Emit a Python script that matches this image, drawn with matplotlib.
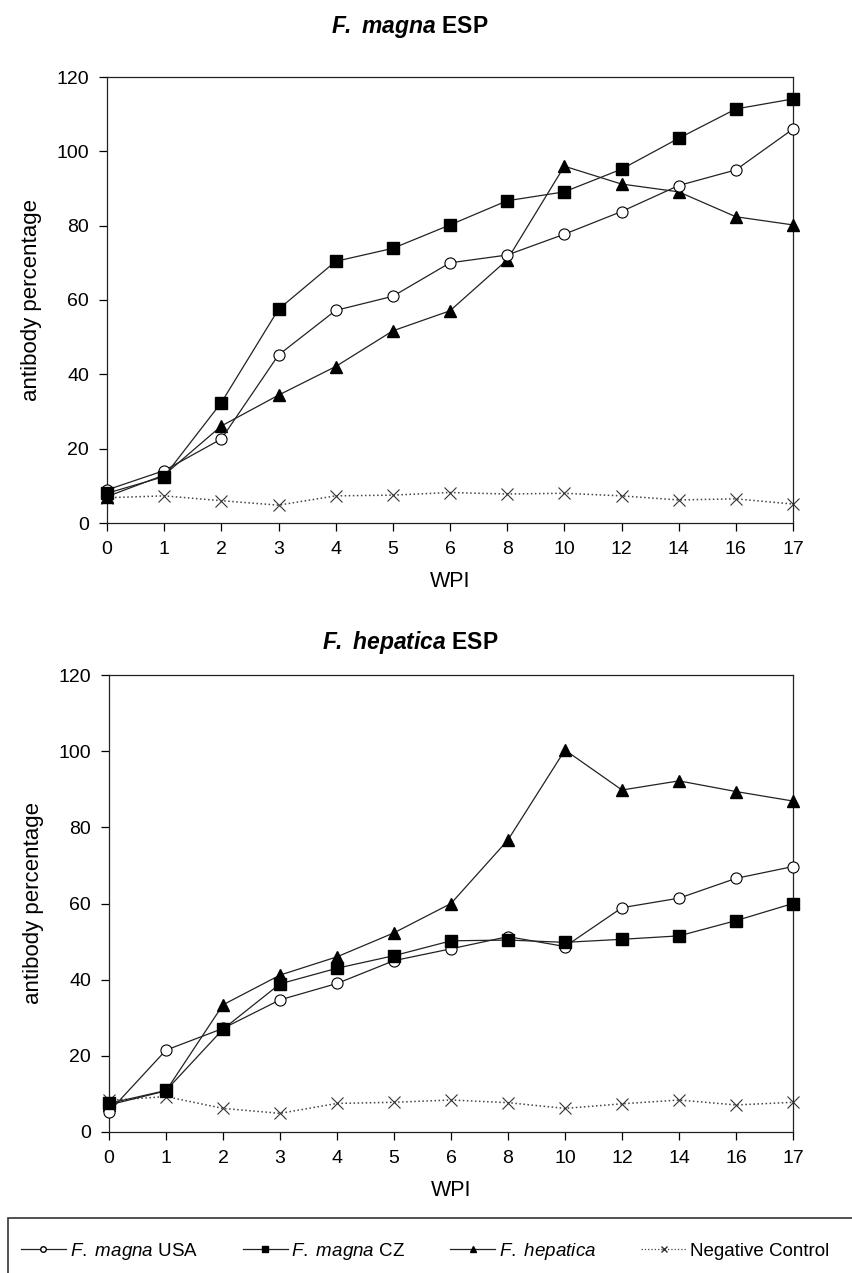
import matplotlib
matplotlib.use("Agg")
import matplotlib.pyplot as plt
from matplotlib.lines import Line2D
from matplotlib.patches import Rectangle

plt.rcParams['font.family'] = ['Liberation Sans', 'DejaVu Sans']
plt.rcParams['mathtext.fontset'] = 'custom'
plt.rcParams['mathtext.rm'] = 'Liberation Sans'
plt.rcParams['mathtext.it'] = 'Liberation Sans:italic'
plt.rcParams['mathtext.bf'] = 'Liberation Sans:bold'
plt.rcParams['mathtext.bfit'] = 'Liberation Sans:bold:italic'

wpi_labels = ["0", "1", "2", "3", "4", "5", "6", "8", "10", "12", "14", "16", "17"]

# F. magna ESP panel
magna_usa = [8.9, 14.1, 22.6, 45.2, 57.2, 61.0, 70.0, 72.1, 77.7, 83.8, 90.8, 95.0, 106.0]
magna_cz = [8.0, 12.5, 32.4, 57.5, 70.4, 73.9, 80.2, 86.7, 89.1, 95.2, 103.5, 111.4, 114.1]
magna_hep = [7.1, 12.9, 26.1, 34.4, 42.1, 51.7, 57.1, 70.8, 96.0, 91.2, 89.1, 82.4, 80.2]
magna_neg = [6.8, 7.3, 6.0, 4.8, 7.3, 7.5, 8.2, 7.8, 8.0, 7.3, 6.2, 6.5, 5.1]

# F. hepatica ESP panel
hep_usa = [5.3, 21.5, 27.2, 34.7, 39.0, 45.0, 48.1, 51.3, 48.7, 58.9, 61.4, 66.6, 69.7]
hep_cz = [7.5, 10.9, 27.0, 38.9, 43.0, 46.3, 50.2, 50.4, 49.8, 50.6, 51.5, 55.5, 60.0]
hep_hep = [7.1, 10.8, 33.4, 41.2, 46.0, 52.3, 60.0, 76.7, 100.3, 89.8, 92.2, 89.4, 86.9]
hep_neg = [8.3, 9.3, 6.2, 4.9, 7.5, 7.8, 8.4, 7.7, 6.2, 7.4, 8.4, 7.1, 7.8]

series_labels = [r"$\mathit{F.}$ $\mathit{magna}$ USA", r"$\mathit{F.}$ $\mathit{magna}$ CZ",
                 r"$\mathit{F.}$ $\mathit{hepatica}$", "Negative Control"]
titles = [r"$\mathbfit{F.}$ $\mathbfit{magna}$ ESP", r"$\mathbfit{F.}$ $\mathbfit{hepatica}$ ESP"]

W, H = 852, 1273
fig = plt.figure(figsize=(W / 100, H / 100), dpi=100)
fig.patch.set_facecolor('white')

x = list(range(len(wpi_labels)))


def panel(rect, usa, cz, hep, neg, title_y, title_txt):
    ax = fig.add_axes(rect)
    lw = 0.9
    ax.plot(x, neg, linestyle=':', color='#444444', lw=1.1, marker='x',
            markersize=8.5, markeredgewidth=0.8, markeredgecolor='#333333', zorder=2)
    ax.plot(x, hep, '-', color='#222222', lw=lw, marker='^', markersize=8.5,
            markerfacecolor='black', markeredgecolor='black', zorder=3)
    ax.plot(x, usa, '-', color='#222222', lw=lw, marker='o', markersize=8,
            markerfacecolor='white', markeredgecolor='black', markeredgewidth=0.8, zorder=4)
    ax.plot(x, cz, '-', color='#222222', lw=lw, marker='s', markersize=8,
            markerfacecolor='black', markeredgecolor='black', zorder=5)
    ax.set_xlim(0, len(x) - 1)
    ax.set_ylim(0, 120)
    ax.set_yticks(range(0, 121, 20))
    ax.set_xticks(x)
    ax.set_xticklabels(wpi_labels)
    ax.tick_params(direction='out', length=6, width=0.9, labelsize=14, colors='black', pad=7)
    for s in ax.spines.values():
        s.set_linewidth(0.9)
        s.set_color('#222222')
    for m in ax.lines:
        m.set_clip_on(False)
    ax.set_xlabel("WPI", fontsize=15.5, labelpad=9)
    ax.set_ylabel("antibody percentage", fontsize=16, labelpad=10)
    fig.text(410 / W, 1 - title_y / H, title_txt, ha='center', va='center',
             fontsize=16.5, fontweight='bold')
    return ax


ax1 = panel([107 / W, 1 - 523 / H, 686 / W, 446 / H], magna_usa, magna_cz, magna_hep,
            magna_neg, 27, titles[0])
ax2 = panel([109 / W, 1 - 1132 / H, 684 / W, 457 / H], hep_usa, hep_cz, hep_hep,
            hep_neg, 643, titles[1])

# legend box
fig.patches.append(Rectangle((8 / W, 1 - 1290 / H), 860 / W, 72 / H,
                             transform=fig.transFigure, fill=False,
                             edgecolor='#333333', lw=1.2, clip_on=False))

handles = [
    Line2D([], [], color='#222222', lw=0.9, marker='o', markersize=4,
           markerfacecolor='white', markeredgecolor='black'),
    Line2D([], [], color='#222222', lw=0.9, marker='s', markersize=4,
           markerfacecolor='black', markeredgecolor='black'),
    Line2D([], [], color='#222222', lw=0.9, marker='^', markersize=4,
           markerfacecolor='black', markeredgecolor='black'),
    Line2D([], [], color='#444444', lw=0.9, linestyle=':', marker='x', markersize=4,
           markeredgecolor='#333333'),
]
fig.legend(handles, series_labels, loc='center', bbox_to_anchor=(425 / W, 1 - 1251 / H),
           ncol=4, frameon=False, fontsize=13.5, handlelength=2.4, handletextpad=0.2,
           columnspacing=2.4)

fig.savefig("out.png", dpi=100)
